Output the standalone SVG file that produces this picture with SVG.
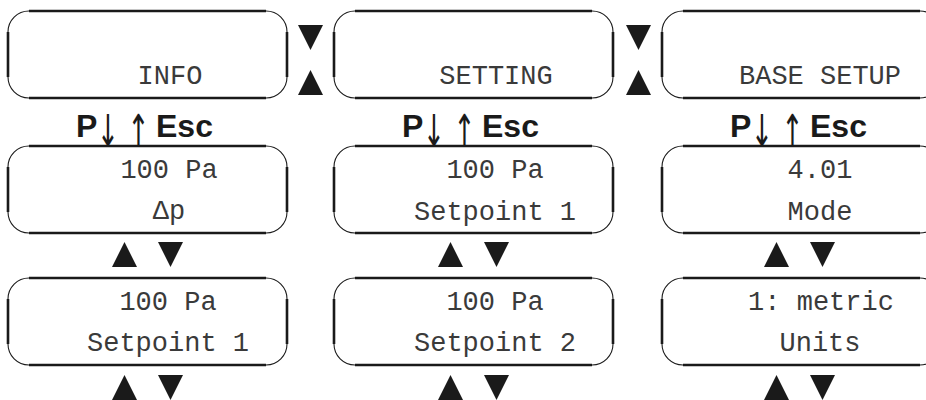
<svg xmlns="http://www.w3.org/2000/svg" xmlns:xlink="http://www.w3.org/1999/xlink" width="926" height="400" viewBox="0 0 926 400">
<style>
.frame{fill:#fff;stroke:#1a1a1a;stroke-width:1.1}
.edge{stroke:#1a1a1a;stroke-width:2.6;fill:none}
.lcd{font-family:"Liberation Mono","Courier New",monospace;font-size:27px;fill:#3a3a3a;text-anchor:middle}
.key{font-family:"Liberation Sans",Arial,sans-serif;font-size:32px;font-weight:bold;fill:#1a1a1a}
.arr{font-family:"DejaVu Sans","Liberation Sans",sans-serif;font-weight:normal;font-size:44px;fill:#1a1a1a}
.tri{fill:#1a1a1a}
</style>
<defs>
<g id="box">
<rect class="frame" x="0" y="0" width="279" height="87" rx="21" ry="21"/>
<path class="edge" d="M21 0H258M21 87H258M0 21V66M279 21V66"/>
</g>
<polygon id="up" points="0,25 12.5,0 25,25"/>
<polygon id="dn" points="0,0 25,0 12.5,25"/>
</defs>
<rect width="926" height="400" fill="#fff"/>
<g id="info">
<use xlink:href="#box" x="8" y="11"/>
<text class="lcd" x="170" y="84">INFO</text>
</g>
<g id="setting">
<use xlink:href="#box" x="334" y="11"/>
<text class="lcd" x="496" y="84">SETTING</text>
</g>
<g id="base-setup">
<use xlink:href="#box" x="662" y="11"/>
<text class="lcd" x="820" y="84">BASE SETUP</text>
</g>
<g id="keys1">
<text class="key" x="76" y="137">P</text>
<text class="arr" transform="translate(97,146) scale(0.6,1)">↓ ↑</text>
<text class="key" x="156" y="137">Esc</text>
</g>
<g id="keys2">
<text class="key" x="402" y="137">P</text>
<text class="arr" transform="translate(423,146) scale(0.6,1)">↓ ↑</text>
<text class="key" x="482" y="137">Esc</text>
</g>
<g id="keys3">
<text class="key" x="730" y="137">P</text>
<text class="arr" transform="translate(751,146) scale(0.6,1)">↓ ↑</text>
<text class="key" x="810" y="137">Esc</text>
</g>
<g id="dp">
<use xlink:href="#box" x="8" y="146"/>
<text class="lcd" x="169" y="178">100 Pa</text>
<text class="lcd" x="169" y="219">Δp</text>
</g>
<g id="sp1-setting">
<use xlink:href="#box" x="334" y="146"/>
<text class="lcd" x="495" y="178">100 Pa</text>
<text class="lcd" x="495" y="220">Setpoint 1</text>
</g>
<g id="mode">
<use xlink:href="#box" x="662" y="146"/>
<text class="lcd" x="820" y="178">4.01</text>
<text class="lcd" x="820" y="220">Mode</text>
</g>
<g id="sp1-info">
<use xlink:href="#box" x="8" y="278"/>
<text class="lcd" x="168" y="310">100 Pa</text>
<text class="lcd" x="168" y="351">Setpoint 1</text>
</g>
<g id="sp2">
<use xlink:href="#box" x="334" y="278"/>
<text class="lcd" x="495" y="310">100 Pa</text>
<text class="lcd" x="495" y="351">Setpoint 2</text>
</g>
<g id="units">
<use xlink:href="#box" x="662" y="278"/>
<text class="lcd" x="821" y="310">1: metric</text>
<text class="lcd" x="820" y="351">Units</text>
</g>
<g id="connectors" class="tri">
<use xlink:href="#dn" x="298" y="25"/>
<use xlink:href="#up" x="298" y="70"/>
<use xlink:href="#dn" x="626" y="25"/>
<use xlink:href="#up" x="626" y="70"/>
<use xlink:href="#up" x="112" y="242"/>
<use xlink:href="#dn" x="158" y="242"/>
<use xlink:href="#up" x="438" y="242"/>
<use xlink:href="#dn" x="484" y="242"/>
<use xlink:href="#up" x="764" y="242"/>
<use xlink:href="#dn" x="810" y="242"/>
<use xlink:href="#up" x="112" y="375"/>
<use xlink:href="#dn" x="158" y="375"/>
<use xlink:href="#up" x="438" y="375"/>
<use xlink:href="#dn" x="484" y="375"/>
<use xlink:href="#up" x="764" y="375"/>
<use xlink:href="#dn" x="810" y="375"/>
</g>
</svg>
